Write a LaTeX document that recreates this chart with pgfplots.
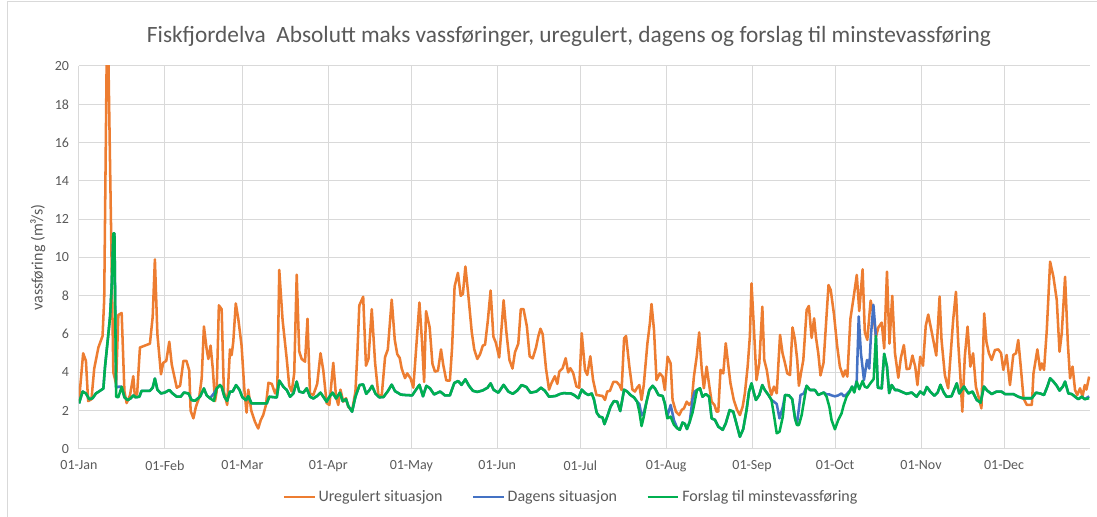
\documentclass[border=0pt]{standalone}
\usepackage{fontspec}
\setmainfont{Carlito}
\usepackage{pgfplots}
\pgfplotsset{compat=1.18}
\definecolor{uor}{HTML}{ED7D31}
\definecolor{ubl}{HTML}{4472C4}
\definecolor{ugr}{HTML}{00B050}
\definecolor{grd}{HTML}{D9D9D9}
\definecolor{txt}{HTML}{595959}
\begin{document}
\begin{tikzpicture}
\begin{axis}[
  at={(0,0)}, anchor=south west,
  scale only axis, width=758.25pt, height=287.25pt,
  xmin=0, xmax=365, ymin=0, ymax=20,
  xtick={0,31,59,90,120,151,181,212,243,273,304,334},
  xticklabels={01-Jan,01-Feb,01-Mar,01-Apr,01-May,01-Jun,01-Jul,01-Aug,01-Sep,01-Oct,01-Nov,01-Dec},
  ytick={0,2,...,20},
  grid=major, major grid style={grd, line width=0.75pt},
  axis line style={draw=none},
  major tick length=0pt,
  tick label style={font=\fontsize{10.5}{12}\selectfont, text=txt},
  xticklabel style={yshift=-5pt},
  yticklabel style={xshift=-4pt},
  /pgf/number format/assume math mode=true,
  ylabel={vassføring (m³/s)},
  ylabel style={at={(axis description cs:-0.0406,0.5)}, anchor=center, font=\fontsize{12}{14}\selectfont, text=txt},
  legend style={at={(axis description cs:0.487,-0.125)}, anchor=center, draw=none, fill=none,
    legend columns=3, font=\fontsize{12}{14}\selectfont, text=txt,
    /tikz/every even column/.append style={column sep=20pt}},
  legend image code/.code={\draw[#1] (0pt,0pt) -- (23pt,0pt);},
  every axis plot/.append style={line width=1.9pt, line join=round},
]
\addplot[uor] coordinates {
(0,2.5) (1.5,5.0) (2.5,4.6) (3.3,2.5) (4.5,2.6) (5.5,4.2) (7,5.3) (8.5,5.9) (9.1,7.8) (10,20.5) (10.6,20.5) (11.2,15) (12.4,4.0) (13.4,3.4) (14.2,7.0) (15.4,7.1) (16.4,3.0) (17.2,2.4) (18.4,2.8) (19.6,3.8) (20.2,2.7) (21,2.9) (22,5.3) (23.8,5.4) (25.6,5.5) (26.6,6.9) (27.4,9.9) (28.3,6.0) (29.6,3.9) (30.4,4.5) (31.5,4.6) (32.6,5.6) (33.5,4.4) (35.3,3.2) (36.5,3.3) (37.7,4.6) (38.8,4.6) (39.8,4.1) (40.3,2.0) (41.3,1.6) (42.2,2.2) (43.4,2.7) (44.3,3.7) (45.1,6.4) (46.1,5.2) (46.7,4.7) (47.5,5.4) (48.3,4.2) (49.1,2.5) (49.7,3.0) (50.5,7.5) (51.5,7.3) (52.3,3.0) (53.5,2.3) (54.5,5.2) (55.1,4.9) (55.7,5.6) (56.6,7.6) (57.5,6.8) (58.7,5.4) (59.7,3.1) (60.5,1.9) (61.1,3.1) (62.2,2.0) (63.5,1.43) (64.7,1.07) (65.6,1.5) (66.5,1.77) (67.5,2.3) (68.4,3.46) (69.6,3.4) (70.8,2.9) (71.6,3.2) (72.3,9.35) (73.5,6.74) (75,4.7) (75.9,3.3) (76.8,3.0) (77.7,3.95) (78.6,9.1) (79.5,5.1) (80.4,4.7) (81.6,4.56) (82.5,6.8) (83.4,2.9) (84.6,2.82) (86,3.4) (87.2,5.0) (88.2,4.1) (89.4,2.4) (90.4,2.3) (91.8,4.5) (92.8,2.73) (93.6,2.3) (94.4,3.1) (95.4,2.47) (96.4,2.65) (97.2,2.2) (98.6,2.0) (99.8,3.0) (100.5,5.0) (101.2,7.5) (102.6,7.95) (103.6,4.35) (104.5,4.7) (105.7,7.3) (106.9,4.5) (108.1,2.8) (109.3,2.8) (110.5,4.8) (111.5,5.2) (112.9,7.8) (114,5.7) (114.9,4.95) (115.8,4.75) (116.5,4.2) (117.7,3.7) (118.5,3.95) (119.7,3.69) (120.7,3.2) (121.5,4.8) (122.9,7.65) (123.8,5.7) (124.6,3.5) (125.3,7.2) (126.6,6.35) (127.6,4.45) (128.5,4.04) (129.6,4.09) (130.7,5.2) (131.5,4.4) (132.6,3.58) (133.9,3.57) (134.7,5.3) (135.6,8.48) (136.8,9.2) (137.8,8.0) (138.6,8.1) (139.5,9.53) (140.5,8.12) (141.8,6.1) (142.7,5.2) (143.8,4.7) (144.8,4.95) (145.8,5.4) (146.6,5.45) (147.6,6.7) (148.6,8.28) (149.6,5.87) (150.5,5.55) (151.7,4.78) (152.6,6.4) (153.3,7.77) (154.3,6.1) (155.4,4.65) (156.5,4.2) (157.4,5.05) (158.6,5.5) (159.5,7.3) (160.5,7.3) (161.7,6.4) (162.7,4.84) (163.8,4.73) (165,5.3) (165.8,5.87) (166.6,6.28) (167.4,6.0) (168.6,4.2) (169.7,3.1) (170.6,3.45) (171.8,3.8) (172.7,3.4) (173.4,4.04) (174.6,4.22) (175.7,4.74) (176.6,4.0) (177.4,4.22) (178.4,3.97) (179.6,3.26) (180.6,3.2) (181.5,6.05) (182.7,4.1) (183.5,3.87) (184.6,4.84) (185.6,3.6) (186.8,2.82) (189,2.77) (189.9,2.56) (190.7,3.0) (191.7,3.04) (192.9,3.5) (194.1,3.5) (195.1,3.34) (195.9,3.08) (196.8,5.78) (197.5,5.9) (198.7,4.3) (199.8,3.1) (200.7,3.0) (201.5,3.2) (202.3,3.34) (203.1,2.56) (203.9,3.34) (205.2,5.5) (206.1,6.56) (206.7,7.57) (207.6,6.2) (208.5,3.6) (209.7,3.95) (210.7,3.78) (211.5,3.08) (212.5,4.82) (213.6,4.47) (214.3,2.56) (215.5,1.95) (216.7,1.77) (217.6,2.04) (218.4,2.12) (219.4,2.47) (220.3,2.3) (221.2,2.47) (222,3.78) (223,4.82) (223.9,6.09) (224.8,4.21) (225.6,3.17) (226.6,4.3) (227.6,3.25) (228.4,2.47) (229.4,2.3) (230.2,1.95) (230.8,1.95) (231.6,4.13) (232.6,3.95) (233.5,5.52) (234.4,4.39) (235.2,3.43) (236.4,2.56) (237.6,2.04) (238.6,1.77) (239.6,2.21) (240.4,2.91) (241.4,4.3) (242.2,5.87) (242.8,8.65) (243.7,6.21) (244.6,3.6) (245.6,4.47) (246.7,7.43) (247.4,4.65) (248.3,4.13) (249.2,3.26) (250,2.82) (250.9,3.26) (251.9,2.91) (253.1,5.96) (254,5.0) (254.9,4.47) (255.7,3.95) (256.7,3.86) (257.6,6.35) (258.5,5.69) (259.3,4.65) (259.9,3.3) (260.7,4.0) (261.5,4.65) (262.7,7.26) (263.5,7.47) (264.5,5.8) (265.4,6.82) (266.1,5.8) (266.9,5.0) (267.7,3.84) (268.8,4.5) (269.9,7.0) (270.6,8.56) (271.4,8.3) (272.6,7.0) (273.7,5.4) (274.7,4.3) (275.9,3.78) (276.6,4.1) (277.4,3.78) (278.5,6.8) (279.7,7.96) (280.8,9.09) (281.7,7.2) (282.9,9.38) (283.7,6.1) (284.6,5.7) (285.8,7.75) (286.8,7.05) (287.7,5.85) (288.6,6.35) (289.8,6.6) (290.7,5.25) (291.7,9.26) (292.6,5.5) (293.6,8.0) (294.6,5.0) (295.8,3.72) (296.7,4.75) (297.8,5.43) (298.8,4.17) (299.9,4.2) (300.9,4.88) (301.9,4.3) (302.7,3.34) (303.7,4.82) (304.7,4.35) (305.7,6.43) (306.6,7.02) (307.8,6.15) (309.5,4.88) (310.7,7.96) (311.4,5.69) (312.6,3.86) (313.8,3.17) (315.6,6.74) (316.6,8.21) (317.4,5.6) (318.2,3.78) (318.9,1.95) (319.8,4.82) (320.8,6.39) (321.8,4.3) (322.8,5.0) (323.8,3.25) (324.9,2.65) (325.8,2.12) (326.8,7.08) (327.6,5.6) (328.5,5.0) (329.5,4.65) (330.7,5.17) (331.9,5.2) (332.9,5.0) (333.7,4.13) (334.9,4.91) (336.1,3.34) (337.3,4.91) (338.3,5.0) (339.1,5.69) (340,4.3) (341,2.65) (342.2,2.3) (344,2.3) (344.6,3.95) (346,5.2) (347,4.13) (347.6,4.47) (348.4,4.13) (349.4,6.21) (350.6,9.78) (351.8,8.99) (353,7.78) (354,5.08) (354.8,6.04) (356,8.99) (357,5.52) (357.8,3.69) (358.7,4.3) (359.6,3.08) (360.4,2.82) (361.4,3.17) (362.3,2.73) (363.1,3.34) (363.7,3.1) (364.7,3.78)
};
\addlegendentry{Uregulert situasjon}
\addplot[ubl] coordinates {
(0,2.38) (1.3,3.0) (2.5,2.9) (3.7,2.6) (4.9,2.65) (6.1,2.9) (7.6,3.04) (8.8,3.16) (9.4,4.3) (10.6,6.0) (11.2,6.9) (11.8,8.5) (12.4,11.26) (12.8,11.26) (13.4,3.2) (14.2,3.25) (15.4,3.25) (16.4,2.7) (17.6,2.55) (18.7,2.65) (19.6,2.8) (20.5,2.7) (21.8,2.73) (22.6,3.04) (25.6,3.04) (26.6,3.2) (27.4,3.68) (28.3,3.1) (29.6,2.9) (31,2.95) (32.6,3.08) (33.8,2.9) (35.3,2.73) (36.7,2.73) (37.9,2.95) (39.5,2.9) (40.7,2.55) (41.9,2.52) (43.7,2.73) (45.1,3.16) (46.1,2.8) (47.3,2.65) (48.7,2.9) (49.7,3.16) (50.9,3.34) (51.5,3.25) (52.5,2.73) (53.5,2.51) (54.5,3.0) (55.5,3.0) (56.7,3.34) (57.9,3.1) (59,2.7) (60.3,2.55) (61.1,2.76) (62.3,2.38) (67.8,2.38) (68.7,2.73) (71.4,2.69) (72.3,3.57) (73.8,3.25) (75,3.08) (76.2,2.73) (77.4,2.9) (78.6,3.52) (79.5,3.0) (81,2.94) (82.2,3.17) (83.4,2.73) (84.6,2.64) (86,2.77) (87.2,2.94) (88.2,2.73) (89.4,2.47) (90.4,2.73) (91.6,2.94) (92.8,2.64) (94.2,2.94) (95.2,2.5) (96.4,2.6) (97.2,2.25) (98.6,1.95) (99.8,2.73) (101.3,3.34) (102.6,3.37) (103.7,2.88) (104.9,3.08) (105.8,3.3) (107,2.9) (108.4,2.7) (109.9,2.71) (111.5,3.02) (112.9,3.36) (114.1,3.02) (116.2,2.84) (117.7,2.82) (120.3,2.8) (121.4,3.04) (122.9,3.35) (124.2,2.75) (125.4,3.3) (126.7,3.17) (128.2,2.85) (130.4,3.0) (132.1,2.8) (133.9,2.8) (135.5,3.45) (136.9,3.55) (138.1,3.35) (139.5,3.64) (140.8,3.3) (142.2,3.04) (143.8,2.98) (145.8,3.06) (147.5,3.2) (148.6,3.43) (149.7,3.09) (151.4,2.94) (153.3,3.35) (155,3.0) (156.6,2.88) (158.2,3.05) (159.8,3.34) (161.5,3.24) (163,2.94) (165.1,3.0) (166.8,3.2) (168.2,3.04) (169.7,2.73) (172.1,2.77) (173.6,2.87) (175,2.92) (176.5,2.9) (177.6,2.9) (178.7,2.82) (180.3,2.65) (181.5,3.1) (182.7,2.92) (183.9,2.82) (185.1,2.9) (185.9,2.6) (186.9,1.9) (187.9,1.69) (189,1.65) (189.7,1.3) (190.7,1.69) (191.9,2.21) (193.1,2.5) (194.3,2.47) (195.4,1.98) (196.8,3.1) (197.9,3.0) (199.1,2.82) (200.4,2.69) (201.5,2.47) (202.3,2.35) (203.1,1.75) (203.9,1.9) (204.9,2.47) (205.9,3.08) (207.1,3.3) (208,3.15) (209.2,2.82) (210.7,2.77) (211.5,2.38) (212.4,1.7) (213.6,2.3) (214.8,1.5) (216,1.08) (216.9,1.0) (217.9,1.38) (218.7,1.32) (219.5,1.04) (220.5,1.43) (221.5,2.6) (222.3,3.0) (223.1,3.08) (224.2,3.17) (225.1,2.73) (226.3,2.87) (227.5,2.73) (228.4,1.6) (229.6,1.52) (230.8,1.17) (232.4,1.0) (233.5,1.34) (234.9,2.03) (236.2,1.95) (237.4,1.3) (238.6,0.64) (239.8,1.04) (241,2.03) (241.9,3.0) (242.8,3.43) (243.7,2.9) (244.4,2.56) (245.6,2.82) (246.7,3.34) (247.6,3.08) (248.9,2.82) (250,2.56) (250.9,2.47) (251.9,2.35) (252.9,1.6) (254.1,2.2) (254.9,2.82) (256.3,2.8) (257.5,2.6) (258.5,1.6) (259.2,1.3) (260.5,2.82) (261.7,2.9) (262.7,3.3) (263.9,3.08) (265.7,3.08) (266.9,2.82) (268.1,2.9) (268.9,2.95) (269.9,2.85) (270.9,2.85) (271.7,2.8) (272.9,2.75) (274.1,2.8) (275.3,2.9) (276.1,2.75) (277.1,2.85) (278.3,3.05) (279.1,3.26) (279.9,3.0) (280.8,3.6) (281.5,6.92) (282.3,5.0) (283.4,3.6) (284.5,4.65) (285.3,4.2) (285.9,5.9) (286.8,7.53) (287.7,5.9) (288.4,3.2) (289.8,3.17) (290.7,4.97) (291.7,4.3) (292.5,2.92) (293.4,3.34) (294.6,3.08) (295.6,3.08) (297.6,2.95) (298.8,2.88) (300.6,2.95) (302.4,2.73) (303.7,3.0) (305,2.85) (306.1,3.24) (307.3,3.0) (308.8,2.78) (310,2.95) (311,3.35) (312.2,2.95) (313.2,2.73) (315,2.75) (316.9,3.43) (317.8,2.9) (319.5,3.26) (321.1,2.9) (322.6,3.0) (324.1,2.56) (325.5,2.42) (326.7,3.26) (327.9,3.05) (329.5,2.87) (331.3,3.0) (333,3.0) (334.3,2.87) (337.3,2.87) (339.1,2.73) (340.7,2.65) (344,2.65) (345.5,2.94) (347,2.9) (348.4,2.82) (349.6,3.26) (350.6,3.69) (351.8,3.52) (353,3.3) (354,3.05) (355.2,3.26) (356,3.52) (357.2,2.9) (358.4,2.87) (359.6,2.73) (360.8,2.6) (362,2.73) (363.1,2.6) (364.7,2.75)
};
\addlegendentry{Dagens situasjon}
\addplot[ugr] coordinates {
(0,2.38) (1.3,3.0) (2.5,2.9) (3.7,2.6) (4.9,2.65) (6.1,2.9) (7.6,3.04) (8.8,3.16) (9.4,4.3) (10.6,6.0) (11.2,6.9) (11.8,8.5) (12.4,11.26) (12.8,11.26) (13.4,2.73) (14.2,2.7) (15.4,3.25) (16.4,2.7) (17.6,2.55) (18.7,2.65) (19.6,2.8) (20.5,2.7) (21.8,2.73) (22.6,3.04) (25.6,3.04) (26.6,3.2) (27.4,3.68) (28.3,3.1) (29.6,2.9) (31,2.95) (32.6,3.08) (33.8,2.9) (35.3,2.73) (36.7,2.73) (37.9,2.95) (39.5,2.9) (40.7,2.55) (41.9,2.52) (43.7,2.73) (45.1,3.16) (46.1,2.8) (47.3,2.65) (48.7,2.51) (49.7,3.16) (50.9,3.34) (51.5,3.25) (52.5,2.73) (53.5,2.51) (54.5,3.0) (55.5,3.0) (56.7,3.34) (57.9,3.1) (59,2.7) (60.3,2.55) (61.1,2.76) (62.3,2.38) (67.8,2.38) (68.7,2.73) (71.4,2.69) (72.3,3.57) (73.8,3.25) (75,3.08) (76.2,2.73) (77.4,2.9) (78.6,3.52) (79.5,3.0) (81,2.94) (82.2,3.17) (83.4,2.73) (84.6,2.64) (86,2.77) (87.2,2.94) (88.2,2.73) (89.4,2.47) (90.4,2.73) (91.6,2.94) (92.8,2.64) (94.2,2.94) (95.2,2.5) (96.4,2.6) (97.2,2.25) (98.6,1.95) (99.8,2.73) (101.3,3.34) (102.6,3.37) (103.7,2.88) (104.9,3.08) (105.8,3.3) (107,2.9) (108.4,2.7) (109.9,2.71) (111.5,3.02) (112.9,3.36) (114.1,3.02) (116.2,2.84) (117.7,2.82) (120.3,2.8) (121.4,3.04) (122.9,3.35) (124.2,2.75) (125.4,3.3) (126.7,3.17) (128.2,2.85) (130.4,3.0) (132.1,2.8) (133.9,2.8) (135.5,3.45) (136.9,3.55) (138.1,3.35) (139.5,3.64) (140.8,3.3) (142.2,3.04) (143.8,2.98) (145.8,3.06) (147.5,3.2) (148.6,3.43) (149.7,3.09) (151.4,2.94) (153.3,3.35) (155,3.0) (156.6,2.88) (158.2,3.05) (159.8,3.34) (161.5,3.24) (163,2.94) (165.1,3.0) (166.8,3.2) (168.2,3.04) (169.7,2.73) (172.1,2.77) (173.6,2.87) (175,2.92) (176.5,2.9) (177.6,2.9) (178.7,2.82) (180.3,2.65) (181.5,3.1) (182.7,2.92) (183.9,2.82) (185.1,2.9) (185.9,2.6) (186.9,1.9) (187.9,1.69) (189,1.65) (189.7,1.3) (190.7,1.69) (191.9,2.21) (193.1,2.5) (194.3,2.47) (195.4,1.98) (196.8,3.1) (197.9,3.0) (199.1,2.82) (200.4,2.69) (201.5,2.47) (202.3,1.95) (203.1,1.2) (203.9,1.69) (204.9,2.47) (205.9,3.08) (207.1,3.3) (208,3.15) (209.2,2.82) (210.7,2.77) (211.5,2.38) (212.4,1.6) (213.6,1.69) (214.8,1.26) (216,1.08) (216.9,1.0) (217.9,1.38) (218.7,1.32) (219.5,1.04) (220.5,1.43) (221.5,1.9) (222.3,2.47) (223.1,3.08) (224.2,3.17) (225.1,2.73) (226.3,2.87) (227.5,2.73) (228.4,1.6) (229.6,1.52) (230.8,1.17) (232.4,1.0) (233.5,1.34) (234.9,2.03) (236.2,1.95) (237.4,1.3) (238.6,0.64) (239.8,1.04) (241,2.03) (241.9,3.0) (242.8,3.43) (243.7,2.9) (244.4,2.56) (245.6,2.82) (246.7,3.34) (247.6,3.08) (248.9,2.82) (250,2.56) (250.9,1.77) (251.9,0.82) (252.9,0.9) (254.1,1.69) (254.9,2.82) (256.3,2.8) (257.5,2.6) (258.5,1.6) (259.2,1.25) (259.9,1.25) (260.9,1.77) (261.7,2.47) (262.7,3.3) (263.9,3.08) (265.7,3.08) (266.9,2.82) (268.1,2.9) (268.9,2.95) (269.9,2.73) (270.9,2.21) (271.7,1.51) (272.9,1.03) (274.1,1.51) (275.3,1.86) (276.1,2.3) (277.1,2.73) (278.3,3.0) (279.1,3.26) (279.9,2.95) (280.8,3.52) (281.7,3.12) (282.9,3.55) (283.7,3.25) (284.6,3.2) (285.8,3.45) (286.9,3.65) (287.7,5.9) (288.4,3.2) (289.8,3.17) (290.7,4.97) (291.7,4.3) (292.5,2.92) (293.4,3.34) (294.6,3.08) (295.6,3.08) (297.6,2.95) (298.8,2.88) (300.6,2.95) (302.4,2.73) (303.7,3.0) (305,2.85) (306.1,3.24) (307.3,3.0) (308.8,2.78) (310,2.95) (311,3.35) (312.2,2.95) (313.2,2.73) (315,2.75) (316.9,3.43) (317.8,2.9) (319.5,3.26) (321.1,2.9) (322.6,3.0) (324.1,2.56) (325.5,2.42) (326.7,3.26) (327.9,3.05) (329.5,2.87) (331.3,3.0) (333,3.0) (334.3,2.87) (337.3,2.87) (339.1,2.73) (340.7,2.65) (344,2.65) (345.5,2.94) (347,2.9) (348.4,2.82) (349.6,3.26) (350.6,3.69) (351.8,3.52) (353,3.3) (354,3.05) (355.2,3.26) (356,3.52) (357.2,2.9) (358.4,2.87) (359.6,2.73) (360.8,2.6) (362,2.73) (363.1,2.6) (364.7,2.65)
};
\addlegendentry{Forslag til minstevassføring}
\end{axis}
\node[text=txt, font=\fontsize{17.5}{20}\selectfont] at (367.5pt,309.5pt) {Fiskfjordelva\ \ Absolutt maks vassføringer, uregulert, dagens og forslag til minstevassføring};
\draw[grd, line width=0.75pt] (-53.25pt,-51pt) -- (-53.25pt,335.25pt) -- (763.5pt,335.25pt);
\pgfresetboundingbox
\path[use as bounding box] (-59.25pt,-51pt) rectangle (763.5pt,336.75pt);
\end{tikzpicture}
\end{document}
